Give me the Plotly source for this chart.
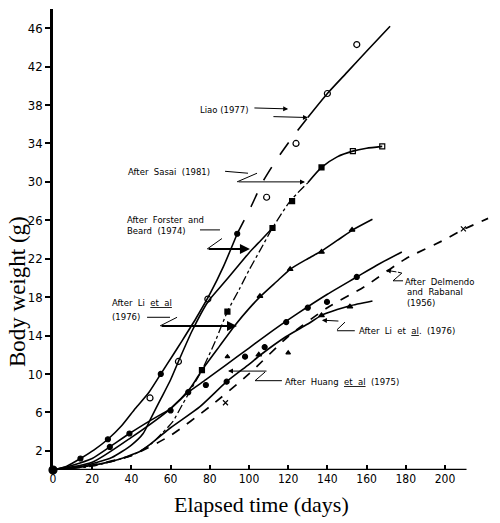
import plotly.graph_objects as go

# growth curves: elapsed time (days) vs body weight (g)
liao_x = [0, 7, 14, 21, 28, 35, 42, 49, 55, 61, 66, 73, 80, 87, 94, 101, 107, 114, 122, 130, 140, 150, 160, 172]
liao_y = [0, 0.4, 1.2, 2.1, 3.2, 4.6, 6.4, 8.1, 10, 11.9, 13.5, 15.8, 18.3, 21.2, 24.6, 27.4, 30, 32.3, 34.6, 36.7, 39.2, 41.4, 43.6, 46.2]
liao_pts_x = [49.5, 64, 79, 109, 124, 140, 155]
liao_pts_y = [7.5, 11.3, 17.8, 28.4, 34, 39.2, 44.3]
liao_dots_x = [14, 28, 55, 94]
liao_dots_y = [1.2, 3.2, 10, 24.6]

forster_x = [0, 15, 30, 40, 46, 50, 55, 60, 64, 71, 79, 86, 93, 100, 106, 112]
forster_y = [0, 0.4, 1.3, 2.6, 3.8, 5.4, 7.4, 9.4, 11.3, 14.5, 17.5, 19.2, 20.9, 22.6, 23.9, 25.2]

li_a_x = [0, 20, 40, 50, 56, 61, 66, 71, 76, 83, 89, 95, 100, 106, 112, 121, 130]
li_a_y = [0, 0.4, 1.5, 2.7, 3.9, 5, 6.8, 8.6, 10.4, 13.5, 16.5, 18.8, 20.8, 23, 25.2, 28, 29.9]
li_a_sq_x = [76, 89, 112, 122]
li_a_sq_y = [10.4, 16.5, 25.2, 28]

sasai_x = [130, 137, 145, 153, 160, 168]
sasai_y = [29.9, 31.5, 32.6, 33.2, 33.5, 33.7]
sasai_sq_x = [137]
sasai_sq_y = [31.5]
sasai_open_x = [153, 168]
sasai_open_y = [33.2, 33.7]

li_b_x = [0, 20, 40, 60, 70, 76, 85, 93, 100, 106, 114, 121, 130, 137, 145, 153, 163]
li_b_y = [0, 0.8, 3.4, 6.4, 8.5, 10.4, 12.9, 15.1, 16.8, 18.1, 19.6, 20.9, 22, 22.8, 23.9, 25, 26.1]
li_b_tri_x = [105.6, 121, 137, 152.6]
li_b_tri_y = [18.1, 20.9, 22.7, 25]

mid_x = [0, 10, 20, 29, 39, 50, 60, 69, 78, 88, 100, 110, 119, 130, 140, 155, 165, 178]
mid_y = [0, 0.5, 1.2, 2.4, 3.8, 5.2, 6.4, 8.1, 9.4, 10.9, 12.7, 14.2, 15.5, 17, 18.3, 20.1, 21.3, 22.7]
mid_dots_x = [29, 39, 60, 69, 98, 119, 130, 155]
mid_dots_y = [2.4, 3.8, 6.2, 8.1, 11.8, 15.4, 16.9, 20.1]

low_x = [0, 14, 30, 45, 60, 75, 88.6, 100, 106, 119, 130, 137, 145, 151.5, 163]
low_y = [0, 0.3, 0.9, 2, 4.4, 6.6, 9.2, 11, 12, 13.9, 15.2, 16.1, 16.7, 17.1, 17.6]
low_tri_x = [105, 137, 151.5]
low_tri_y = [12, 16.1, 17]
low_dots_x = [88.6]
low_dots_y = [9.2]

delmendo_x = [0, 20, 40, 60, 80, 100, 120, 140, 159, 180, 200, 209, 222]
delmendo_y = [0, 0.5, 1.5, 3.6, 6.6, 10, 13.9, 16.9, 19.1, 22, 24, 25, 26.2]
delmendo_pts_x = [209.4, 88]
delmendo_pts_y = [25.1, 7]

loose_dots_x = [139.8, 108, 78]
loose_dots_y = [17.5, 12.8, 8.85]
loose_tri_x = [120, 89]
loose_tri_y = [12.2, 11.8]

x_ticks = [0, 20, 40, 60, 80, 100, 120, 140, 160, 180, 200]
x_tick_text = ["0", "20", "40", "60", "80", "100", "120", "140", "160", "180", "200"]
y_ticks = [2, 6, 10, 14, 18, 22, 26, 30, 34, 38, 42, 46]

fig = go.Figure()


def curve(x, y, dash="solid", width=1.6):
    fig.add_trace(go.Scatter(x=x, y=y, mode="lines", cliponaxis=False, hoverinfo="skip",
                             line=dict(color="black", width=width, dash=dash, shape="spline", smoothing=0.6)))


def pts(x, y, symbol, size=6):
    fig.add_trace(go.Scatter(x=x, y=y, mode="markers", cliponaxis=False, hoverinfo="skip",
                             marker=dict(symbol=symbol, size=size, color="black",
                                         line=dict(color="black", width=1.2))))


curve(liao_x[:15], liao_y[:15])
curve(liao_x[14:20], liao_y[14:20], dash="longdash")
curve(liao_x[19:], liao_y[19:])
curve(forster_x, forster_y)
curve(li_a_x, li_a_y, dash="dashdot", width=1.3)
curve(sasai_x, sasai_y)
curve(li_b_x, li_b_y)
curve(mid_x, mid_y)
curve(low_x, low_y)
curve(delmendo_x, delmendo_y, dash="dash", width=1.7)

pts(liao_pts_x, liao_pts_y, "circle-open", 6)
pts(liao_dots_x, liao_dots_y, "circle", 5)
pts(li_a_sq_x, li_a_sq_y, "square", 5)
pts(sasai_sq_x, sasai_sq_y, "square", 5)
pts(sasai_open_x, sasai_open_y, "square-open", 5)
pts(li_b_tri_x, li_b_tri_y, "triangle-up", 5)
pts(mid_dots_x, mid_dots_y, "circle", 5)
pts(low_tri_x, low_tri_y, "triangle-up", 5)
pts(low_dots_x, low_dots_y, "circle", 5)
pts(delmendo_pts_x, delmendo_pts_y, "x-thin", 5)
pts(loose_dots_x, loose_dots_y, "circle", 5)
pts(loose_tri_x, loose_tri_y, "triangle-up", 4)
pts([0], [0], "circle", 8)

shapes = []


def seg(x0, y0, x1, y1, width=1.0, dash="solid"):
    shapes.append(dict(type="line", xref="x", yref="y", x0=x0, y0=y0, x1=x1, y1=y1,
                       line=dict(color="black", width=width, dash=dash)))


def arrow(x0, y0, x1, y1, width=1.0):
    fig.add_annotation(x=x1, y=y1, ax=x0, ay=y0, xref="x", yref="y", axref="x", ayref="y",
                       text="", showarrow=True, arrowhead=2, arrowsize=1, arrowwidth=width,
                       arrowcolor="black")


def label(x, y, text):
    fig.add_annotation(x=x, y=y, xref="x", yref="y", text=text, showarrow=False,
                       xanchor="left", yanchor="middle",
                       font=dict(family="DejaVu Sans", size=8.5, color="black"))


# x axis line stops short of the right edge, like the original
seg(0, 0, 211, 0, width=2.5)

# callouts
label(74, 37.5, "Liao (1977)")
arrow(102, 37.7, 120, 37.6)
arrow(111.7, 36.8, 130.1, 36.7)

label(37.2, 31.0, "After  Sasai  (1981)")
seg(87.8, 31.1, 99.5, 30.9)
seg(93.9, 30.0, 104.1, 30.9)
arrow(93.9, 30.0, 128.6, 30.0)

label(36.7, 26.0, "After  Forster  and")
label(36.7, 24.9, "Beard  (1974)")
seg(75, 25, 85.2, 25)
seg(78.6, 23, 86.2, 24.1)
arrow(78.6, 23, 100.5, 23, width=2)

label(29.1, 17.4, "After  Li  <u>et  al</u>")
label(29.1, 15.9, "(1976)")
seg(48, 15.9, 59.7, 15.9)
seg(54.6, 15.0, 63.3, 15.9)
arrow(54.6, 15.0, 93.9, 15.0, width=2)

label(178.6, 19.6, "After  Delmendo")
label(179.6, 18.5, "and  Rabanal")
label(179.6, 17.4, "(1956)")
arrow(176, 20.6, 169.9, 20.8)
seg(176, 20.6, 178, 20.5)
seg(178, 20.5, 173.5, 19.7)
seg(173.5, 19.7, 178.6, 19.7)

label(155.1, 14.5, "After  Li  et  <u>al</u>.  (1976)")
arrow(146.4, 15.5, 137.2, 15.6)
seg(149, 15.4, 144.9, 14.6)
seg(144.9, 14.5, 154, 14.5)

label(117.3, 9.2, "After  Huang  <u>et  al</u>  (1975)")
arrow(109.7, 10.3, 89.3, 10.3)
seg(108.2, 10.2, 103.1, 9.3)
seg(103.1, 9.3, 116.8, 9.3)

fig.add_annotation(x=0.476, y=-0.075, xref="paper", yref="paper", text="Elapsed time (days)",
                   showarrow=False, xanchor="center", yanchor="middle",
                   font=dict(family="Liberation Serif", size=22, color="black"))
fig.add_annotation(x=-0.082, y=0.386, xref="paper", yref="paper", text="Body weight (g)",
                   showarrow=False, textangle=-90, xanchor="center", yanchor="middle",
                   font=dict(family="Liberation Serif", size=23, color="black"))

fig.update_layout(
    width=500, height=523,
    margin=dict(l=53, r=8, t=9, b=53),
    paper_bgcolor="white", plot_bgcolor="white",
    showlegend=False,
    shapes=shapes,
    xaxis=dict(range=[0, 224], tickvals=x_ticks, ticktext=x_tick_text, ticks="inside",
               ticklen=5, tickwidth=1.5, tickcolor="black", showline=False, showgrid=False,
               zeroline=False,
               tickfont=dict(family="Liberation Sans Narrow, DejaVu Sans Condensed, Liberation Sans",
                             size=12, color="black")),
    yaxis=dict(range=[0, 48], tickvals=y_ticks, ticks="outside", ticklen=5, tickwidth=1.5,
               tickcolor="black", showline=True, linewidth=2.5, linecolor="black",
               showgrid=False, zeroline=False,
               tickfont=dict(family="Liberation Sans Narrow, DejaVu Sans Condensed, Liberation Sans",
                             size=13, color="black")),
)

# drop the browser's default body margin so the chart sits at the window's top-left corner
fig.write_html("out.html", config={"displayModeBar": False},
               post_script="document.body.style.margin='0';")
